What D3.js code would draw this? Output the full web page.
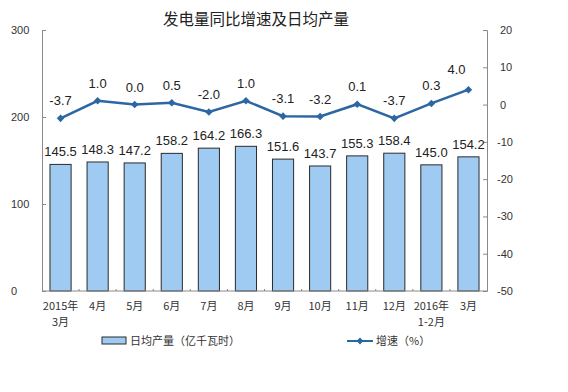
<!DOCTYPE html>
<html><head><meta charset="utf-8">
<script src="https://cdn.jsdelivr.net/npm/d3@7/dist/d3.min.js"></script>
<style>
body{margin:0;background:#fff;}
text{font-family:"Liberation Sans","DejaVu Sans","Noto Sans CJK SC",sans-serif;}
</style></head>
<body><svg id="c" width="568" height="392"></svg>
<script>
const categories = ["2015年|3月","4月","5月","6月","7月","8月","9月","10月","11月","12月","2016年|1-2月","3月"];
const dailyOutput = [145.5,148.3,147.2,158.2,164.2,166.3,151.6,143.7,155.3,158.4,145.0,154.2];
const growth = [-3.7,1.0,0.0,0.5,-2.0,1.0,-3.1,-3.2,0.1,-3.7,0.3,4.0];
const leftTicks = [0,100,200,300];
const rightTicks = [20,10,0,-10,-20,-30,-40,-50];
const title = "发电量同比增速及日均产量";
const legendBar = "日均产量（亿千瓦时）";
const legendLine = "增速（%）";

const svg = d3.select("#c");
const L = 42, R = 487, T = 30, B = 291;
const x = d3.scaleBand().domain(categories).range([L, R]).paddingInner(0.43).paddingOuter(0.215);
const xc = d3.scaleBand().domain(categories).range([L, R]);
const yL = d3.scaleLinear().domain([0,300]).range([B,T]);
const yR = d3.scaleLinear().domain([-50,20]).range([B,T]);
const axisCol = "#8a8a8a";
const lineCol = "#2c66a3";

svg.append("text").attr("x",256).attr("y",25).attr("text-anchor","middle")
  .attr("font-size",15.5).attr("fill","#222").text(title)
  .style("font-family","'Noto Sans CJK SC',sans-serif");

// left axis
const gl = svg.append("g").attr("transform",`translate(${L},0)`)
  .call(d3.axisRight(yL).tickValues(leftTicks).tickSize(4).tickFormat(""));
gl.select(".domain").attr("stroke",axisCol);
gl.selectAll(".tick line").attr("stroke",axisCol);
svg.selectAll(".ltl").data(leftTicks).enter().append("text")
  .attr("x",11).attr("y",d=>yL(d)+4).attr("font-size",11).attr("fill","#333").text(d=>d);

// right axis
const gr = svg.append("g").attr("transform",`translate(${R},0)`)
  .call(d3.axisLeft(yR).tickValues(rightTicks).tickSize(4).tickFormat(""));
gr.select(".domain").attr("stroke",axisCol);
gr.selectAll(".tick line").attr("stroke",axisCol);
svg.selectAll(".rtl").data(rightTicks).enter().append("text")
  .attr("x",d=>d<0?497:500).attr("y",d=>yR(d)+4).attr("font-size",11).attr("fill","#333").text(d=>d);

// bars
svg.selectAll(".bar").data(dailyOutput).enter().append("rect")
  .attr("x",(d,i)=>x(categories[i])).attr("width",x.bandwidth())
  .attr("y",d=>yL(d)).attr("height",d=>B-yL(d))
  .attr("fill","#9fcbf3").attr("stroke","#2a2a2a").attr("stroke-width",1);
svg.selectAll(".bl").data(dailyOutput).enter().append("text")
  .attr("x",(d,i)=>x(categories[i])+x.bandwidth()/2).attr("y",d=>yL(d)-8)
  .attr("text-anchor","middle").attr("font-size",13).attr("fill","#222").text(d=>d.toFixed(1));

// bottom axis
svg.append("line").attr("x1",L).attr("x2",R).attr("y1",B).attr("y2",B).attr("stroke",axisCol);
svg.selectAll(".bt").data(categories.slice(1)).enter().append("line")
  .attr("x1",d=>xc(d)).attr("x2",d=>xc(d)).attr("y1",B).attr("y2",B-2).attr("stroke",axisCol);
const xl = svg.selectAll(".xl").data(categories).enter().append("text")
  .attr("text-anchor","middle").attr("font-size",11).attr("fill","#333")
  .style("font-family","'Noto Sans CJK SC',sans-serif");
xl.each(function(d){
  const parts=d.split("|"); const t=d3.select(this);
  parts.forEach((p,k)=>t.append("tspan").attr("x",xc(d)+xc.bandwidth()/2).attr("y",310+k*16).text(p));
});

// line
const line = d3.line().x((d,i)=>xc(categories[i])+xc.bandwidth()/2).y(d=>yR(d));
svg.append("path").datum(growth).attr("d",line).attr("fill","none").attr("stroke",lineCol).attr("stroke-width",2.5);
svg.selectAll(".pt").data(growth).enter().append("path")
  .attr("d",d3.symbol(d3.symbolDiamond2,36)())
  .attr("transform",(d,i)=>`translate(${xc(categories[i])+xc.bandwidth()/2},${yR(d)})`)
  .attr("fill",lineCol);
svg.selectAll(".gl").data(growth).enter().append("text")
  .attr("x",(d,i)=>xc(categories[i])+xc.bandwidth()/2 - (i===growth.length-1?12:0))
  .attr("y",(d,i)=>yR(d)-(i===growth.length-1?16:13))
  .attr("text-anchor","middle").attr("font-size",13).attr("fill","#222").text(d=>d.toFixed(1));

// legend
svg.append("rect").attr("x",102).attr("y",337).attr("width",24).attr("height",7)
  .attr("fill","#9fcbf3").attr("stroke","#2a2a2a");
svg.append("text").attr("x",130).attr("y",345).attr("font-size",11).attr("fill","#333")
  .style("font-family","'Noto Sans CJK SC',sans-serif").text(legendBar);
svg.append("line").attr("x1",347).attr("x2",373).attr("y1",341).attr("y2",341).attr("stroke",lineCol).attr("stroke-width",2);
svg.append("path").attr("d",d3.symbol(d3.symbolDiamond2,30)()).attr("transform","translate(360,341)").attr("fill",lineCol);
svg.append("text").attr("x",376).attr("y",345).attr("font-size",11).attr("fill","#333")
  .style("font-family","'Noto Sans CJK SC',sans-serif").text(legendLine);
</script></body></html>
